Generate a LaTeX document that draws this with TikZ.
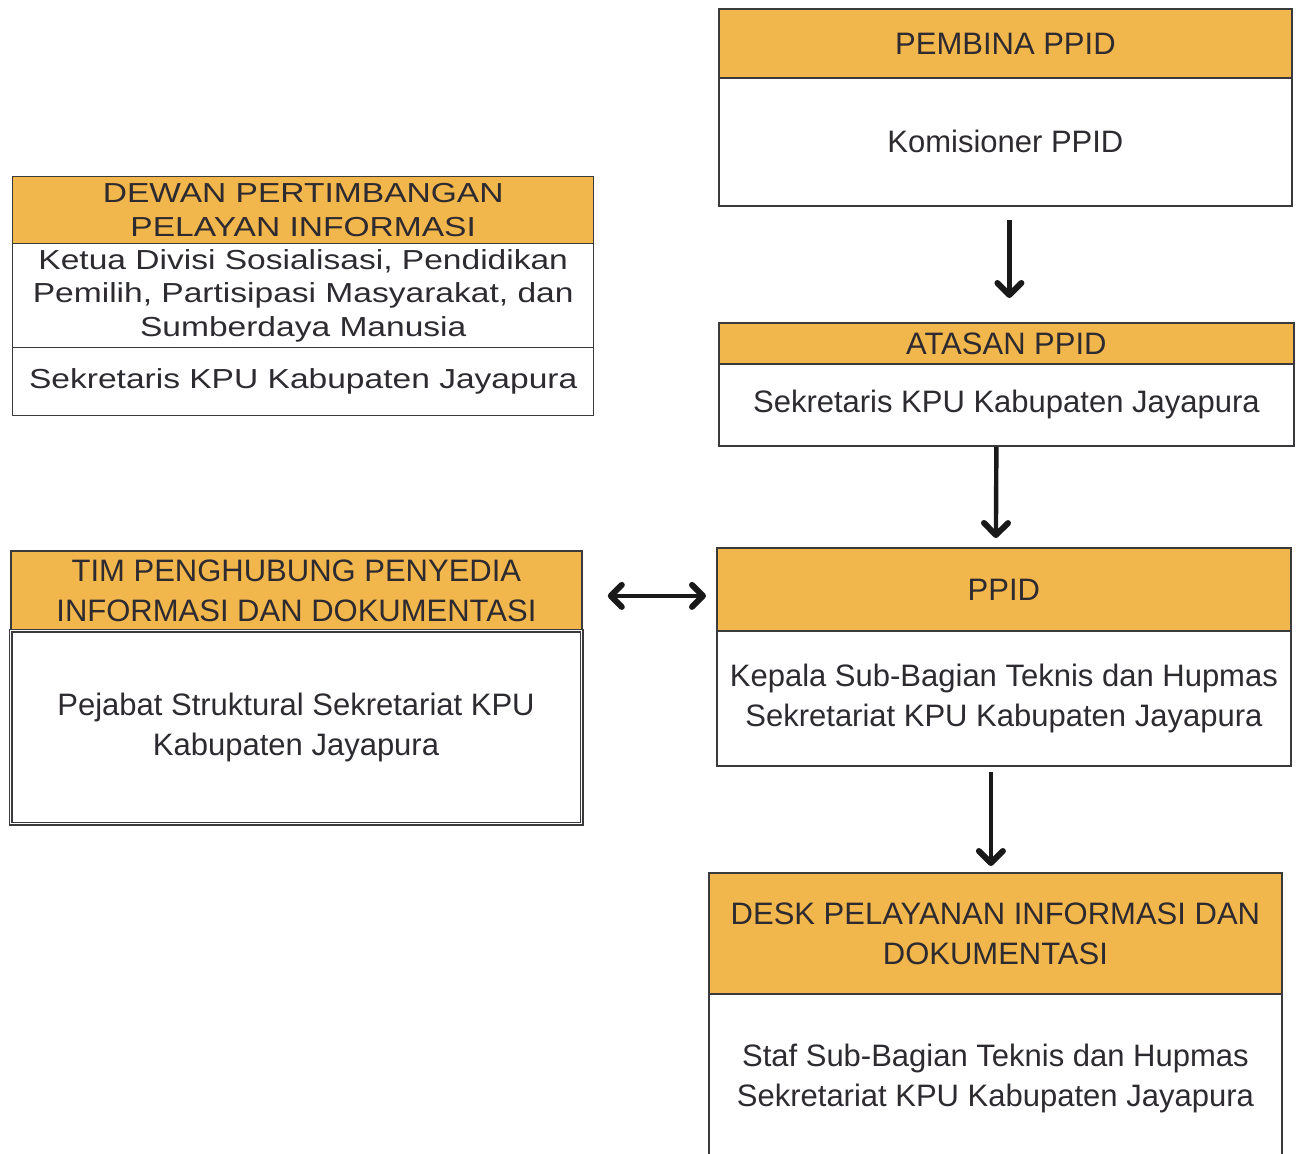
\documentclass[tikz,border=0pt]{standalone}
\usepackage{fontspec}
\setmainfont{Liberation Sans}
\newfontfamily\widefont[FakeStretch=1.22]{Liberation Sans}
\usetikzlibrary{arrows.meta}
\definecolor{hdr}{RGB}{241,182,76}
\definecolor{ink}{RGB}{45,42,48}
\definecolor{edge}{RGB}{58,58,60}
\begin{document}
\begin{tikzpicture}[x=1pt,y=-1pt,
  box/.style={draw=edge, line width=1.8pt, anchor=north west, inner sep=0pt, text=ink, align=center, font=\fontsize{31}{40}\selectfont},
  hbox/.style={box, fill=hdr},
  wbox/.style={box, fill=white},
  dbox/.style={box, line width=1.4pt, font=\widefont\fontsize{27.5}{33.5}\selectfont},
  arr/.style={-{Straight Barb[round, length=12pt, width=24pt, line width'=6pt]}, line width=4.4pt, draw=black!90},
  darr/.style={{Straight Barb[round, length=11pt, width=22pt, line width'=6pt]}-{Straight Barb[round, length=11pt, width=22pt, line width'=6pt]}, line width=4.4pt, draw=black!90}]
\useasboundingbox (0,0) rectangle (1297,1153);
\clip (0,0) rectangle (1297,1153);
\fill[white] (0,0) rectangle (1297,1153);

% PEMBINA
\node[hbox, minimum width=573pt, minimum height=69pt] (pembH) at (718,8) {PEMBINA PPID};
\node[wbox, minimum width=573pt, minimum height=128pt] (pembB) at (718,77) {Komisioner PPID};

% ATASAN
\node[hbox, minimum width=575pt, minimum height=41pt] (ataH) at (718,322) {ATASAN PPID};
\node[wbox, minimum width=575pt, minimum height=82pt] (ataB) at (718,363) {Sekretaris KPU Kabupaten Jayapura};

% PPID
\node[hbox, minimum width=574pt, minimum height=83pt] (ppidH) at (716,547) {PPID};
\node[wbox, minimum width=574pt, minimum height=135pt] (ppidB) at (716,630) {Kepala Sub-Bagian Teknis dan Hupmas\\Sekretariat KPU Kabupaten Jayapura};

% DESK
\node[hbox, minimum width=573pt, minimum height=121pt] (deskH) at (708,872) {DESK PELAYANAN INFORMASI DAN\\DOKUMENTASI};
\node[wbox, minimum width=573pt, minimum height=170pt] (deskB) at (708,993) {Staf Sub-Bagian Teknis dan Hupmas\\Sekretariat KPU Kabupaten Jayapura};

% DEWAN
\node[dbox, fill=hdr, minimum width=581pt, minimum height=67pt] (dewH) at (12,176) {DEWAN PERTIMBANGAN\\PELAYAN INFORMASI};
\node[dbox, fill=white, minimum width=581pt, minimum height=104pt] (dewB1) at (12,243) {Ketua Divisi Sosialisasi, Pendidikan\\Pemilih, Partisipasi Masyarakat, dan\\Sumberdaya Manusia};
\node[dbox, fill=white, minimum width=581pt, minimum height=68pt] (dewB2) at (12,347) {Sekretaris KPU Kabupaten Jayapura};

% TIM
\node[hbox, minimum width=571pt, minimum height=80pt] (timH) at (10,550) {TIM PENGHUBUNG PENYEDIA\\INFORMASI DAN DOKUMENTASI};
\node[wbox, line width=1.1pt, double=white, double distance=1.8pt, minimum width=571pt, minimum height=193pt] (timB) at (10,630) {Pejabat Struktural Sekretariat KPU\\Kabupaten Jayapura};

% connectors
\draw[arr] ([xshift=4pt,yshift=-13pt]pembB.south) -- ([xshift=3pt,yshift=24pt]ataH.north);
\draw[arr] ([xshift=-10pt]ataB.south) -- ([xshift=-8pt,yshift=9pt]ppidH.north);
\draw[arr] ([xshift=-13pt,yshift=-5pt]ppidB.south) -- ([xshift=-4.5pt,yshift=6pt]deskH.north);
\draw[darr] ([xshift=25pt,yshift=-5pt]timH.east) -- ([xshift=-10pt,yshift=-6.5pt]ppidH.west);
\end{tikzpicture}
\end{document}
